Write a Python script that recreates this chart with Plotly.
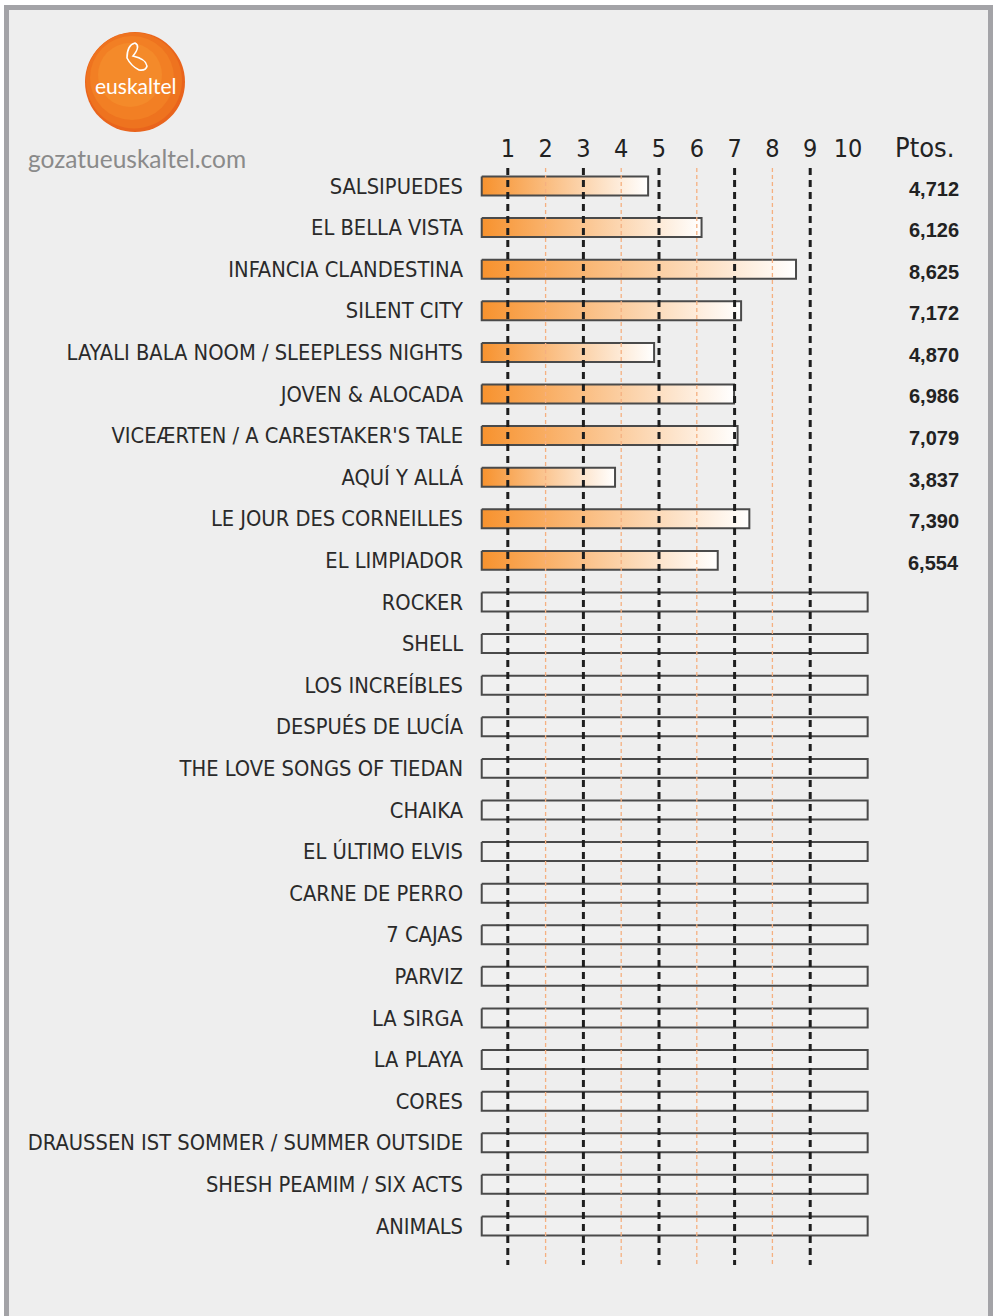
import plotly.graph_objects as go

# ---------------- data ----------------
films = [
    "SALSIPUEDES", "EL BELLA VISTA", "INFANCIA CLANDESTINA", "SILENT CITY",
    "LAYALI BALA NOOM / SLEEPLESS NIGHTS", "JOVEN & ALOCADA",
    "VICEÆRTEN / A CARESTAKER'S TALE", "AQUÍ Y ALLÁ", "LE JOUR DES CORNEILLES",
    "EL LIMPIADOR", "ROCKER", "SHELL", "LOS INCREÍBLES", "DESPUÉS DE LUCÍA",
    "THE LOVE SONGS OF TIEDAN", "CHAIKA", "EL ÚLTIMO ELVIS", "CARNE DE PERRO",
    "7 CAJAS", "PARVIZ", "LA SIRGA", "LA PLAYA", "CORES",
    "DRAUSSEN IST SOMMER / SUMMER OUTSIDE", "SHESH PEAMIM / SIX ACTS", "ANIMALS",
]
scores = [4.712, 6.126, 8.625, 7.172, 4.870, 6.986, 7.079, 3.837, 7.390, 6.554]
tick_values = list(range(1, 11))
tick_labels = [str(t) for t in tick_values]
score_header = "Ptos."

# ---------------- styling constants ----------------
W, H = 1004, 1316
M_L, M_R, M_T, M_B = 470, 14, 162, 26
X_RANGE = [0, (W - M_L - M_R) / 37.8]
Y_RANGE = [26.54, -0.577]
BAR_START = 0.31
SCALE_END = 10.52
HALF = 0.228
ORANGE = "#f7922e"
LABEL_FONT = "Liberation Sans Narrow, DejaVu Sans Condensed, Roboto, sans-serif"

def px_x(px):
    return (px - M_L) / (W - M_L - M_R)

def px_y(py):
    return (H - M_B - py) / (H - M_T - M_B)

fig = go.Figure()

rows = list(range(len(films)))
for i, name in enumerate(films):
    y0, y1 = i - HALF, i + HALF
    if i < len(scores):
        v = scores[i]
        fig.add_trace(go.Scatter(
            x=[BAR_START, v, v, BAR_START, BAR_START], y=[y0, y0, y1, y1, y0],
            mode="lines", fill="toself",
            fillgradient=dict(type="horizontal",
                              colorscale=[[0, ORANGE], [1, "#ffffff"]]),
            line=dict(color="#4a4a4a", width=2),
            hoverinfo="skip", showlegend=False))
    else:
        fig.add_trace(go.Scatter(
            x=[BAR_START, SCALE_END, SCALE_END, BAR_START, BAR_START],
            y=[y0, y0, y1, y1, y0],
            mode="lines", fill="toself", fillcolor="rgba(255,255,255,0.15)",
            line=dict(color="#4a4a4a", width=2),
            hoverinfo="skip", showlegend=False))

shapes = []
# frame
shapes.append(dict(type="rect", xref="paper", yref="paper",
                   x0=px_x(6.5), x1=px_x(990.5), y0=px_y(7.5), y1=px_y(1340),
                   fillcolor="#eeeeee", line=dict(color="#a3a3a7", width=5),
                   layer="below"))
# gridlines
for t in tick_values[:9]:
    if t % 2 == 1:
        shapes.append(dict(type="line", xref="x", yref="y", x0=t, x1=t,
                           y0=-0.43, y1=25.94, layer="above",
                           line=dict(color="#1e1e1e", width=3, dash="7px,5px")))
    else:
        shapes.append(dict(type="line", xref="x", yref="y", x0=t, x1=t,
                           y0=-0.43, y1=25.94, layer="above",
                           line=dict(color="#f5b080", width=1.3, dash="4px,3px")))

# logo circle (layered for shading)
def circ(cx, cy, r, color):
    return dict(type="circle", xref="paper", yref="paper",
                x0=px_x(cx - r), x1=px_x(cx + r), y0=px_y(cy + r), y1=px_y(cy - r),
                fillcolor=color, line=dict(width=0), layer="above")

shapes.append(circ(135, 82, 50, "#e9641c"))
shapes.append(circ(134, 80.5, 48, "#ee731f"))
shapes.append(circ(132, 78, 42, "#f27f24"))
shapes.append(circ(130, 75, 32, "#f48a2a"))

# logo icon
def pth(points):
    cmd = []
    for c, pts in points:
        cmd.append(c + " ".join(f"{px_x(a):.5f},{px_y(b):.5f}" for a, b in pts))
    return " ".join(cmd)

icon = pth([("M", [(127, 58)]),
            ("Q", [(127, 45), (135, 43)]),
            ("Q", [(141, 46), (133, 56)]),
            ("Q", [(146, 59), (147, 66)]),
            ("Q", [(146, 71), (139, 70)]),
            ("Q", [(131, 66), (127, 58)]),
            ("Z", [])])
shapes.append(dict(type="path", xref="paper", yref="paper", path=icon,
                   line=dict(color="white", width=1.6), layer="above"))

annotations = []
annotations.append(dict(text="euskaltel", xref="paper", yref="paper",
                        x=px_x(135), y=px_y(85), showarrow=False,
                        xanchor="center", yanchor="middle",
                        font=dict(family="Lato, Open Sans, sans-serif", size=21, color="white")))
annotations.append(dict(text="gozatueuskaltel.com", xref="paper", yref="paper",
                        x=px_x(26), y=px_y(158), showarrow=False,
                        xanchor="left", yanchor="middle",
                        font=dict(family="Lato, Open Sans, sans-serif", size=24.5, color="#8a8a8a")))
annotations.append(dict(text=score_header, xref="paper", yref="paper",
                        x=px_x(956), y=px_y(148), showarrow=False,
                        xanchor="right", yanchor="middle",
                        font=dict(family=LABEL_FONT, size=27, color="#222222")))
for i, v in enumerate(scores):
    annotations.append(dict(text=f"<b>{v:.3f}</b>".replace(".", ","),
                            xref="paper", yref="y", x=px_x(961), y=i + 0.06,
                            showarrow=False, xanchor="right", yanchor="middle",
                            font=dict(family="Liberation Sans, Roboto, sans-serif",
                                      size=20, color="#222222")))

fig.update_layout(
    width=W, height=H,
    margin=dict(l=M_L, r=M_R, t=M_T, b=M_B),
    paper_bgcolor="white", plot_bgcolor="rgba(0,0,0,0)",
    shapes=shapes, annotations=annotations, showlegend=False,
    xaxis=dict(range=X_RANGE, side="top", showgrid=False, zeroline=False,
               showline=False, tickvals=tick_values, ticktext=tick_labels,
               ticks="", ticklabelstandoff=-1,
               tickfont=dict(family=LABEL_FONT, size=25, color="#222222"),
               fixedrange=True),
    yaxis=dict(range=Y_RANGE, showgrid=False, zeroline=False, showline=False,
               tickvals=rows, ticktext=films, ticks="", ticklabelstandoff=6,
               tickfont=dict(family=LABEL_FONT, size=21.7, color="#2a2a2a"),
               fixedrange=True),
)

fig.write_html("out.html", config={"displayModeBar": False},
               post_script="document.body.style.margin='0';document.body.style.padding='0';")
